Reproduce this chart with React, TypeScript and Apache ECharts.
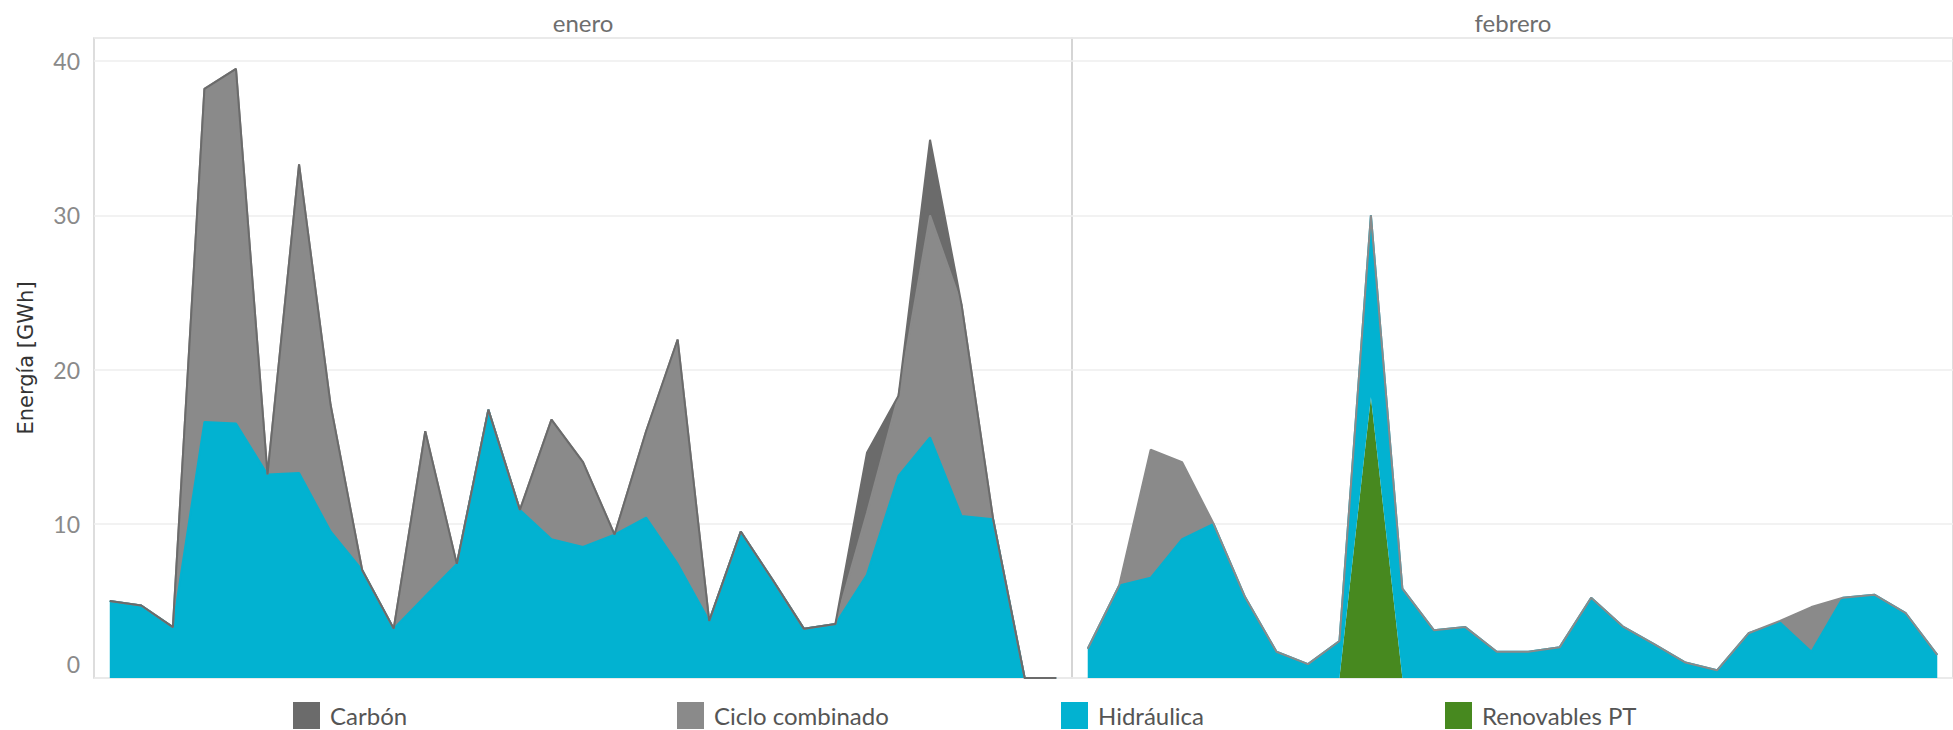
import { useEffect, useRef } from "react";
import * as echarts from "echarts";

// ---- Data ----
const ENERO_DAYS = ["1","2","3","4","5","6","7","8","9","10","11","12","13","14","15","16","17","18","19","20","21","22","23","24","25","26","27","28","29","30","31"];
const FEBRERO_DAYS = ["1","2","3","4","5","6","7","8","9","10","11","12","13","14","15","16","17","18","19","20","21","22","23","24","25","26","27","28"];

const eneroHidraulica = [5.0, 4.7, 3.3, 16.6, 16.5, 13.2, 13.3, 9.5, 7.0, 3.2, 5.3, 7.4, 17.4, 10.9, 9.0, 8.5, 9.3, 10.4, 7.4, 3.7, 9.5, 6.4, 3.2, 3.5, 6.7, 13.1, 15.6, 10.5, 10.3, 0, 0];
const eneroCiclo = [0, 0, 0, 21.6, 23.0, 0, 20.0, 8.2, 0, 0, 10.7, 0, 0, 0, 7.75, 5.5, 0, 5.6, 14.55, 0, 0, 0, 0, 0, 4.0, 5.2, 14.4, 13.7, 0, 0, 0];
const eneroCarbon = [0, 0, 0, 0, 0, 0, 0, 0, 0, 0, 0, 0, 0, 0, 0, 0, 0, 0, 0, 0, 0, 0, 0, 0, 3.9, 0, 4.9, 0, 0, 0, 0];

const febreroRenovables = [0, 0, 0, 0, 0, 0, 0, 0, 0, 18.2, 0, 0, 0, 0, 0, 0, 0, 0, 0, 0, 0, 0, 0, 0, 0, 0, 0, 0];
const febreroHidraulica = [1.9, 6.0, 6.5, 9.0, 10.0, 5.25, 1.7, 0.9, 2.4, 11.8, 5.8, 3.1, 3.3, 1.7, 1.7, 2.0, 5.2, 3.35, 2.2, 1.0, 0.5, 2.9, 3.6, 1.7, 5.2, 5.4, 4.2, 1.5];
const febreroCiclo = [0, 0, 8.3, 5.0, 0, 0, 0, 0, 0, 0, 0, 0, 0, 0, 0, 0, 0, 0, 0, 0, 0, 0, 0.1, 2.9, 0, 0, 0, 0];

const PANEL_TITLES = ["enero", "febrero"];
const LEGEND_ITEMS = ["Carbón", "Ciclo combinado", "Hidráulica", "Renovables PT"];
const Y_TITLE = "Energía [GWh]";

// ---- Styles / layout ----
const COLORS: Record<string, string> = {
  "Carbón": "#6b6b6b",
  "Ciclo combinado": "#8a8a8a",
  "Hidráulica": "#02b2d1",
  "Renovables PT": "#47891f",
};
const LINE_WIDTH: Record<string, number> = {
  "Carbón": 2,
  "Ciclo combinado": 2,
  "Hidráulica": 2,
  "Renovables PT": 0,
};
const LEGEND_LEFT = [293, 677, 1061, 1445];
const GRID_TOP = 38;
const GRID_HEIGHT = 640;
const Y_MAX = 41.5;
const TICK_FONT = "Lato";

function areaSeries(name: string, data: number[], gridIdx: number) {
  const c = COLORS[name];
  return {
    name,
    type: "line",
    xAxisIndex: gridIdx,
    yAxisIndex: gridIdx,
    stack: "panel" + gridIdx,
    data,
    symbol: "none",
    showSymbol: false,
    color: c,
    lineStyle: { color: c, width: LINE_WIDTH[name] },
    areaStyle: { color: c, opacity: 1 },
    emphasis: { disabled: true },
  };
}

export default function App() {
  const ref = useRef<HTMLDivElement>(null);

  useEffect(() => {
    if (!ref.current) return;
    const chart = echarts.init(ref.current, undefined, { renderer: "svg" });

    const splitLine = { show: true, lineStyle: { color: "#eeeeee", width: 1.5 } };
    const gridBase = {
      top: GRID_TOP,
      height: GRID_HEIGHT,
      show: true,
      borderColor: "#d2d2d2",
      borderWidth: 1.5,
      backgroundColor: "transparent",
    };
    const xBase = {
      type: "category",
      boundaryGap: true,
      axisLine: { show: false },
      axisTick: { show: false },
      axisLabel: { show: false },
      splitLine: { show: false },
    };

    const option: any = {
      animation: false,
      backgroundColor: "#ffffff",
      grid: [
        { ...gridBase, left: 94, width: 978 },
        { ...gridBase, left: 1072, width: 883 },
      ],
      xAxis: [
        { ...xBase, gridIndex: 0, data: ENERO_DAYS },
        { ...xBase, gridIndex: 1, data: FEBRERO_DAYS },
      ],
      yAxis: [
        {
          type: "value",
          gridIndex: 0,
          min: 0,
          max: Y_MAX,
          interval: 10,
          name: Y_TITLE,
          nameLocation: "middle",
          nameRotate: 90,
          nameGap: 58,
          nameTextStyle: { fontFamily: "DejaVu Sans", fontSize: 21, color: "#333333" },
          axisLine: { show: false },
          axisTick: { show: false },
          axisLabel: {
            margin: 14,
            showMaxLabel: false,
            fontFamily: TICK_FONT,
            fontSize: 23,
            color: "#8a8a8a",
            formatter: (v: number) => (v % 10 !== 0 ? "" : v === 0 ? "{z|0}" : "{n|" + v + "}"),
            rich: {
              z: { padding: [0, 0, 29, 0], fontFamily: TICK_FONT, fontSize: 23, color: "#8a8a8a" },
              n: { fontFamily: TICK_FONT, fontSize: 23, color: "#8a8a8a" },
            },
          },
          splitLine,
        },
        {
          type: "value",
          gridIndex: 1,
          min: 0,
          max: Y_MAX,
          interval: 10,
          axisLine: { show: false },
          axisTick: { show: false },
          axisLabel: { show: false },
          splitLine,
        },
      ],
      legend: LEGEND_ITEMS.map((name, i) => ({
        left: LEGEND_LEFT[i],
        top: 702,
        padding: 0,
        itemWidth: 27,
        itemHeight: 27,
        icon: "rect",
        selectedMode: false,
        data: [name],
        itemStyle: { borderWidth: 0 },
        textStyle: { fontFamily: TICK_FONT, fontSize: 24, color: "#555555", padding: [0, 0, 0, 5] },
      })),
      graphic: [
        {
          type: "text",
          x: 583,
          y: 22,
          style: {
            text: PANEL_TITLES[0],
            fill: "#6e6e6e",
            font: "24px Lato",
            textAlign: "center",
            textVerticalAlign: "middle",
            align: "center",
            verticalAlign: "middle",
          },
        },
        {
          type: "text",
          x: 1513,
          y: 22,
          style: {
            text: PANEL_TITLES[1],
            fill: "#6e6e6e",
            font: "24px Lato",
            textAlign: "center",
            textVerticalAlign: "middle",
            align: "center",
            verticalAlign: "middle",
          },
        },
      ],
      series: [
        areaSeries("Hidráulica", eneroHidraulica, 0),
        areaSeries("Ciclo combinado", eneroCiclo, 0),
        areaSeries("Carbón", eneroCarbon, 0),
        areaSeries("Renovables PT", febreroRenovables, 1),
        areaSeries("Hidráulica", febreroHidraulica, 1),
        areaSeries("Ciclo combinado", febreroCiclo, 1),
      ],
    };

    chart.setOption(option);
    return () => chart.dispose();
  }, []);

  return (
    <div
      ref={ref}
      style={{ position: "fixed", left: 0, top: 0, width: "1953px", height: "730px", background: "#fff" }}
    />
  );
}
